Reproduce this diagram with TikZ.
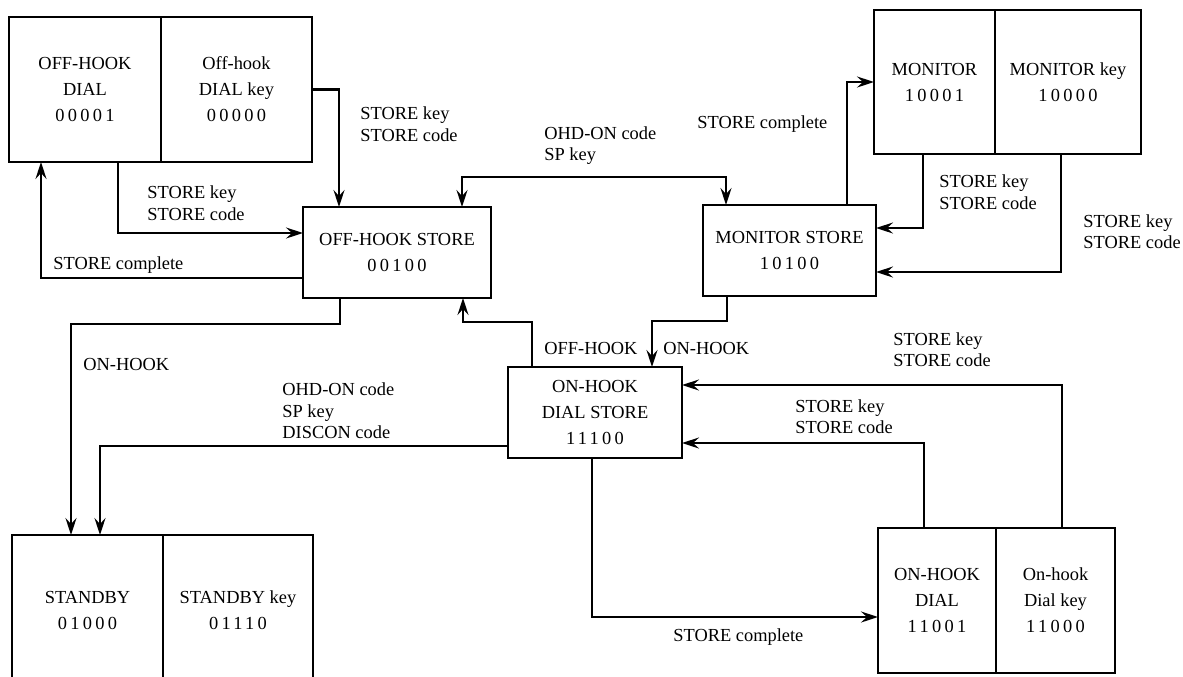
\documentclass[tikz,border=0pt]{standalone}
\usepackage{fontspec}
\setmainfont{Liberation Serif}
\newfontfamily\codefont[LetterSpace=18]{Liberation Serif}
\usetikzlibrary{arrows.meta}

\begin{document}
\begin{tikzpicture}[x=0.5pt,y=-0.5pt,>={Stealth[length=8.5pt,width=5.5pt,inset=3pt]}]
        \tikzstyle{cell} = [draw,line width=1.15pt,outer sep=0pt,inner sep=2pt,align=center,minimum height=72.5pt,font=\fontsize{9.2}{13}\selectfont]
        \tikzstyle{store} = [cell,minimum height=45.5pt]
        \tikzstyle{lbl} = [anchor=west,align=left,inner sep=0pt,font=\fontsize{9.2}{10.8}\selectfont]
        \tikzstyle{wire} = [line width=1.15pt,->]
        \useasboundingbox (0,0) rectangle (1183,676);
        % state boxes
        \node[cell,minimum width=76pt] (ohd) at (85,89.5) {OFF-HOOK\\DIAL\\{\codefont 00001}};
        \node[cell,minimum width=75.5pt,anchor=west] (ohdk) at (ohd.east) {Off-hook\\DIAL key\\{\codefont 00000}};
        \node[store,minimum width=94pt] (ohs) at (397,252.5) {OFF-HOOK STORE\\{\codefont 00100}};
        \node[store,minimum width=86.5pt] (mns) at (789.5,250.5) {MONITOR STORE\\{\codefont 10100}};
        \node[cell,minimum width=60.5pt,minimum height=72pt] (mn) at (934.5,82) {MONITOR\\{\codefont 10001}};
        \node[cell,minimum width=73pt,minimum height=72pt,anchor=west] (mnk) at (mn.east) {MONITOR key\\{\codefont 10000}};
        \node[store,minimum width=87pt] (ods) at (595,412.5) {ON-HOOK\\DIAL STORE\\{\codefont 11100}};
        \node[cell,minimum width=75.5pt,minimum height=75pt] (sb) at (87.5,610) {STANDBY\\{\codefont 01000}};
        \node[cell,minimum width=75pt,minimum height=75pt,anchor=west] (sbk) at (sb.east) {STANDBY key\\{\codefont 01110}};
        \node[cell,minimum width=59pt] (ond) at (937,600.5) {ON-HOOK\\DIAL\\{\codefont 11001}};
        \node[cell,minimum width=59.5pt,anchor=west] (ondk) at (ond.east) {On-hook\\Dial key\\{\codefont 11000}};
        % transitions
        \draw[wire] (ohdk.east) -| ([xshift=18pt]ohs.north west);
        \draw[wire] ([xshift=54.5pt]ohd.south west) |- ([yshift=9.75pt]ohs.west);
        \draw[wire] ([yshift=-12.75pt]ohs.west) -| ([xshift=16pt]ohd.south west);
        \draw[wire,<->] ([xshift=-14.5pt]ohs.north east) -- ++(0,-30) -| ([xshift=11.5pt]mns.north west);
        \draw[wire] ([xshift=-14.5pt]mns.north east) |- (mn.west);
        \draw[wire] ([xshift=24.5pt]mn.south west) |- ([yshift=11.25pt]mns.east);
        \draw[wire] ([xshift=-40pt]mnk.south east) |- ([yshift=-10.75pt]mns.east);
        \draw[wire] ([xshift=18.5pt]ohs.south west) -- ++(0,26) -| ([xshift=29.5pt]sb.north west);
        \draw[wire] ([xshift=12pt]ods.north west) -- ++(0,-45) -| ([xshift=-14pt]ohs.south east);
        \draw[wire] ([xshift=12pt]mns.south west) -- ++(0,25) -| ([xshift=-15pt]ods.north east);
        \draw[wire] ([yshift=-16.75pt]ods.west) -| ([xshift=44pt]sb.north west);
        \draw[wire] ([xshift=42pt]ods.south west) |- ([yshift=-8.25pt]ond.west);
        \draw[wire] ([xshift=23pt]ond.north west) |- ([yshift=-15.25pt]ods.east);
        \draw[wire] ([xshift=-26.5pt]ondk.north east) |- ([yshift=13.75pt]ods.east);
        % labels
        \node[lbl] (la) at (360,124) {STORE key\\STORE code};
        \node[lbl] (lb) at (147,203) {STORE key\\STORE code};
        \node[lbl] (lc) at (53,265) {STORE complete};
        \node[lbl] (ld) at (544,145.5) {OHD-ON code\\SP key};
        \node[lbl] (le) at (697,124) {STORE complete};
        \node[lbl] (lf) at (939,192) {STORE key\\STORE code};
        \node[lbl] (lg) at (1083,231.5) {STORE key\\STORE code};
        \node[lbl] (lh) at (83,364) {ON-HOOK};
        \node[lbl] (li) at (544,348) {OFF-HOOK};
        \node[lbl] (lj) at (663,348) {ON-HOOK};
        \node[lbl] (lk) at (282,411) {OHD-ON code\\SP key\\DISCON code};
        \node[lbl] (ll) at (673,637) {STORE complete};
        \node[lbl] (lm) at (795,416.5) {STORE key\\STORE code};
        \node[lbl] (ln) at (893,349.5) {STORE key\\STORE code};
      \end{tikzpicture}
\end{document}
